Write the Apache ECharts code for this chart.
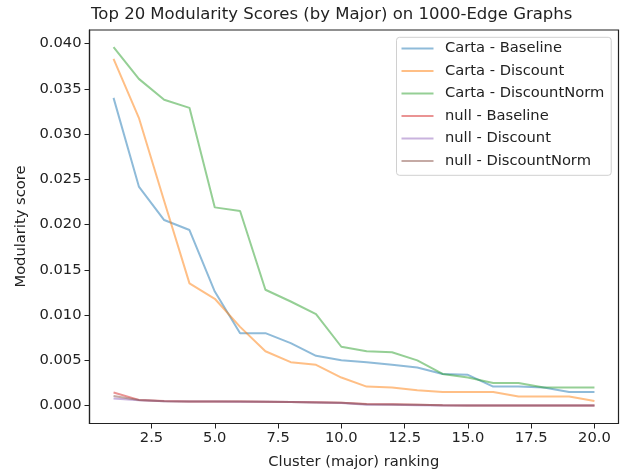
<!DOCTYPE html>
<html><head><meta charset="utf-8">
<script src="https://cdn.jsdelivr.net/npm/echarts@6/dist/echarts.min.js"></script>
<style>html,body{margin:0;padding:0;background:#fff}#c{width:625px;height:472px}</style>
</head><body><div id="c"></div>
<script>
const ranks = [1,2,3,4,5,6,7,8,9,10,11,12,13,14,15,16,17,18,19,20];
const xTicks = [2.5,5.0,7.5,10.0,12.5,15.0,17.5,20.0];
const yTicks = [0,0.005,0.01,0.015,0.02,0.025,0.03,0.035,0.04];
const seriesNames = ['Carta - Baseline','Carta - Discount','Carta - DiscountNorm','null - Baseline','null - Discount','null - DiscountNorm'];
const cartaBaseline = [0.0340,0.0242,0.0205,0.0194,0.0126,0.0080,0.0080,0.0069,0.0055,0.0050,0.0048,0.0045,0.0042,0.0035,0.0034,0.0021,0.0021,0.0020,0.0015,0.0015];
const cartaDiscount = [0.0383,0.0318,0.0226,0.0135,0.0118,0.0087,0.0060,0.0048,0.0045,0.0031,0.0021,0.0020,0.0017,0.0015,0.0015,0.0015,0.0010,0.0010,0.0010,0.0005];
const cartaDiscountNorm = [0.0396,0.0361,0.0338,0.0329,0.0219,0.0215,0.0128,0.0115,0.0101,0.0065,0.0060,0.0059,0.0050,0.0035,0.0031,0.0025,0.0025,0.0020,0.0020,0.0020];
const nullBaseline = [0.00145,0.00063,0.00050,0.00046,0.00045,0.00044,0.00043,0.00040,0.00036,0.00030,0.00018,0.00014,0.00010,0.00004,0.00002,0.00001,0,0,0,0];
const nullDiscount = [0.00078,0.00060,0.00048,0.00045,0.00044,0.00043,0.00042,0.00039,0.00034,0.00029,0.00010,0.00008,0.00005,0.00002,0,0,0,0,0,0];
const nullDiscountNorm = [0.00105,0.00062,0.00049,0.00046,0.00045,0.00044,0.00043,0.00040,0.00035,0.00030,0.00014,0.00011,0.00008,0.00003,0.00001,0,0,0,0,0];
const allData = [cartaBaseline,cartaDiscount,cartaDiscountNorm,nullBaseline,nullDiscount,nullDiscountNorm];
const colors = ['rgba(31,119,180,0.5)','rgba(255,127,14,0.5)','rgba(44,160,44,0.5)','rgba(214,39,40,0.5)','rgba(148,103,189,0.5)','rgba(140,86,75,0.5)'];

const FONT = 'DejaVu Sans';
const chart = echarts.init(document.getElementById('c'), null, {renderer:'canvas'});
chart.setOption({
  animation:false,
  backgroundColor:'#fff',
  grid:{left:89.5,right:6.5,top:30,bottom:48.5,show:true,borderColor:'#222',borderWidth:1.2,backgroundColor:'transparent'},
  xAxis:{type:'value',min:0.05,max:20.95,
    axisLine:{show:true,onZero:false,lineStyle:{color:'#222',width:1.2}},
    axisTick:{show:true,length:5,lineStyle:{color:'#222',width:1},customValues:xTicks},
    axisLabel:{color:'#222',fontFamily:FONT,fontSize:14.7,margin:7,customValues:xTicks,formatter:v=>v.toFixed(1)},
    splitLine:{show:false}},
  yAxis:{type:'value',min:-0.00198,max:0.0415,
    axisLine:{show:true,onZero:false,lineStyle:{color:'#222',width:1.2}},
    axisTick:{show:true,length:5,lineStyle:{color:'#222',width:1},customValues:yTicks},
    axisLabel:{color:'#222',fontFamily:FONT,fontSize:14.7,margin:8,customValues:yTicks,formatter:v=>v.toFixed(3)},
    splitLine:{show:false}},
  legend:{orient:'vertical',left:396.5,top:37.3,padding:[0,7,3,5],itemGap:0,
    backgroundColor:'#fff',borderColor:'#d0d0d0',borderWidth:1,borderRadius:3,
    itemWidth:32,itemHeight:2,icon:'rect',
    textStyle:{fontFamily:FONT,fontSize:14.7,color:'#222',lineHeight:22.5,padding:[0,0,0,6.5]},
    data:seriesNames},
  series: seriesNames.map((n,i)=>({
    name:n,type:'line',showSymbol:false,symbol:'none',
    data: ranks.map((r,j)=>[r,allData[i][j]]),
    color:colors[i],
    lineStyle:{color:colors[i],width:2},
    itemStyle:{color:colors[i]},
    z: 2+i
  })),
  graphic:[
    {type:'text',x:331.7,y:15,style:{text:'Top 20 Modularity Scores (by Major) on 1000-Edge Graphs',font:'16.5px "DejaVu Sans"',fill:'#222',align:'center',verticalAlign:'middle'}},
    {type:'text',x:353.8,y:462,style:{text:'Cluster (major) ranking',font:'14.7px "DejaVu Sans"',fill:'#222',align:'center',verticalAlign:'middle'}},
    {type:'text',x:21.5,y:226.5,rotation:Math.PI/2,style:{text:'Modularity score',font:'14.7px "DejaVu Sans"',fill:'#222',align:'center',verticalAlign:'middle'}}
  ]
});
</script></body></html>
